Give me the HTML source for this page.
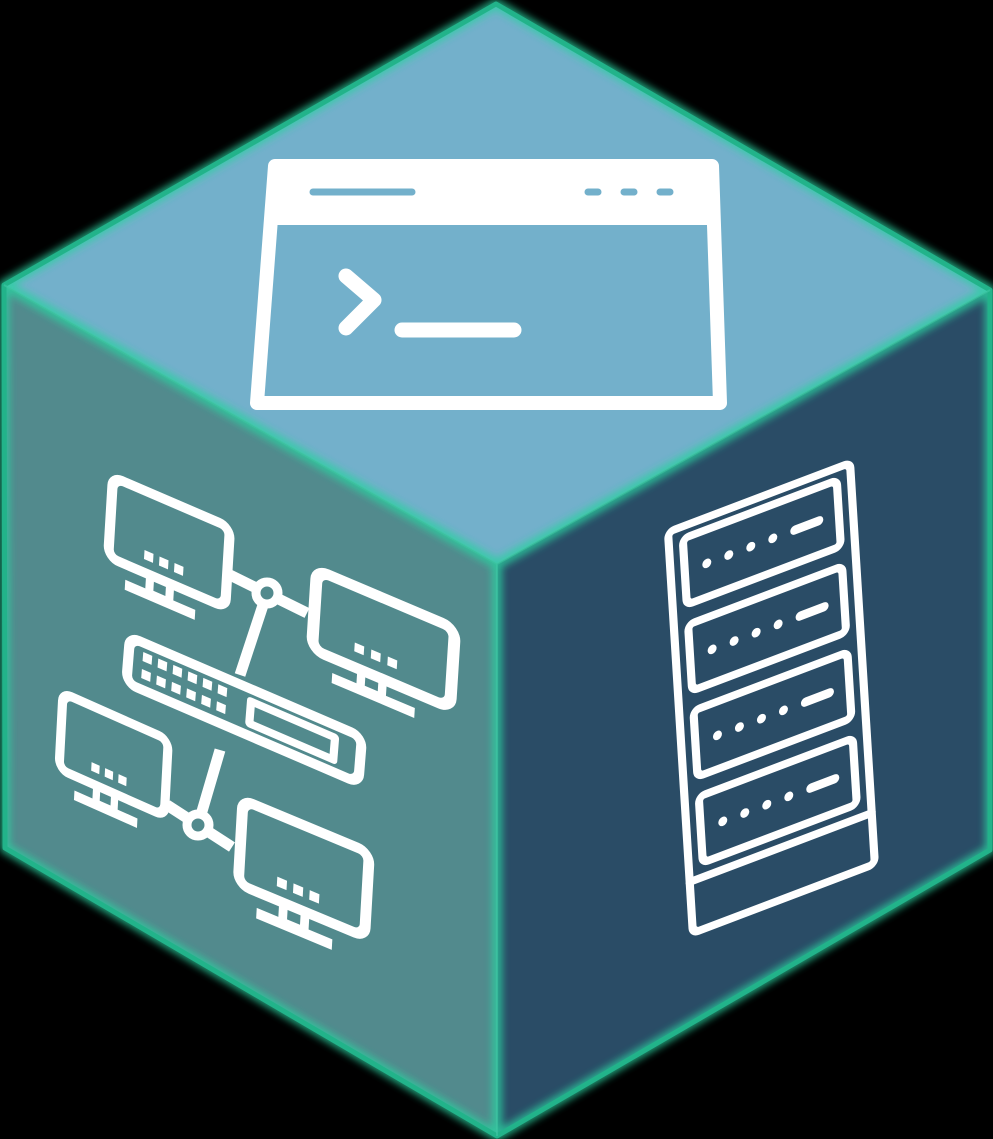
<!DOCTYPE html>
<html><head><meta charset="utf-8"><style>
html,body{margin:0;padding:0;background:#000;}
svg{display:block}
</style></head><body>
<svg width="993" height="1139" viewBox="0 0 993 1139" xmlns="http://www.w3.org/2000/svg">
<defs>
<filter id="glow" x="-10%" y="-10%" width="120%" height="120%">
<feGaussianBlur stdDeviation="4"/>
</filter>
</defs>
<rect width="993" height="1139" fill="#000"/>
<!-- faces -->
<polygon points="496,4 990,290 497,564 4,285" fill="#73b0cb"/>
<polygon points="4,285 497,564 497,1136 5,848" fill="#528a8d"/>
<polygon points="990,290 990,850 497,1136 497,564" fill="#2a4c66"/>
<!-- glow edges -->
<g fill="none" stroke="#2bd1a0" stroke-width="10" filter="url(#glow)" opacity="0.8">
<polygon points="496,4 990,290 990,850 497,1136 5,848 4,285"/>
<polyline points="4,285 497,564 990,290"/>
<line x1="497" y1="564" x2="497" y2="1136"/>
</g>
<g fill="none" stroke="#22b38a" stroke-width="5" stroke-linejoin="round">
<polygon points="496,4 990,290 990,850 497,1136 5,848 4,285"/>
</g>
<g fill="none" stroke="#3fc7a4" stroke-width="2" opacity="0.6">
<polyline points="4,285 497,564 990,290"/>
<line x1="497" y1="564" x2="497" y2="1136"/>
</g>

<!-- terminal -->
<g stroke="#fff" stroke-linejoin="round" stroke-linecap="round">
<polygon points="275,166 712,166 720,403 257,403" fill="none" stroke-width="14"/>
<polygon points="275,166 712,166 714,220 272,220" fill="#fff" stroke-width="10"/>
<polyline points="346,276 374,300 346,328" fill="none" stroke-width="15"/>
<line x1="402" y1="330" x2="514" y2="330" stroke-width="15"/>
</g>
<g stroke="#73b0cb" stroke-width="7" stroke-linecap="round">
<line x1="313" y1="192" x2="412" y2="192"/>
<line x1="588" y1="192" x2="598" y2="192"/>
<line x1="624" y1="192" x2="634" y2="192"/>
<line x1="660" y1="192" x2="670" y2="192"/>
</g>

<!-- rack -->
<g transform="matrix(1,-0.379,0.062,1,668,532)" fill="none" stroke="#fff" stroke-width="8" stroke-linejoin="round" stroke-linecap="round">
<rect x="0" y="0" width="182" height="401" rx="6"/>
<rect x="14" y="12" width="154" height="66" rx="6"/>
<rect x="14" y="98" width="154" height="66" rx="6"/>
<rect x="14" y="184" width="154" height="66" rx="6"/>
<rect x="14" y="270" width="154" height="66" rx="6"/>
<line x1="0" y1="350" x2="182" y2="350"/>
<g fill="#fff" stroke="none">
<circle cx="36" cy="45" r="4.5"/><circle cx="58" cy="45" r="4.5"/><circle cx="80" cy="45" r="4.5"/><circle cx="102" cy="45" r="4.5"/>
<circle cx="36" cy="131" r="4.5"/><circle cx="58" cy="131" r="4.5"/><circle cx="80" cy="131" r="4.5"/><circle cx="102" cy="131" r="4.5"/>
<circle cx="36" cy="217" r="4.5"/><circle cx="58" cy="217" r="4.5"/><circle cx="80" cy="217" r="4.5"/><circle cx="102" cy="217" r="4.5"/>
<circle cx="36" cy="303" r="4.5"/><circle cx="58" cy="303" r="4.5"/><circle cx="80" cy="303" r="4.5"/><circle cx="102" cy="303" r="4.5"/>
</g>
<line x1="124" y1="45" x2="148" y2="45" stroke-width="9"/>
<line x1="124" y1="131" x2="148" y2="131" stroke-width="9"/>
<line x1="124" y1="217" x2="148" y2="217" stroke-width="9"/>
<line x1="124" y1="303" x2="148" y2="303" stroke-width="9"/>
</g>

<!-- network -->
<g stroke="#fff" stroke-width="11" fill="none" stroke-linecap="butt" stroke-linejoin="round">
<line x1="230" y1="575" x2="307" y2="613"/>
<line x1="267" y1="593" x2="240" y2="675"/>
<line x1="167" y1="805" x2="232" y2="847"/>
<line x1="198" y1="825" x2="220" y2="750"/>
</g>
<circle cx="267" cy="593" r="11" fill="#528a8d" stroke="#fff" stroke-width="9"/>
<circle cx="198" cy="825" r="11" fill="#528a8d" stroke="#fff" stroke-width="9"/>

<!-- monitor symbol: local screen 120x80 -->
<g id="mons" stroke="#fff" fill="none" stroke-width="10" stroke-linejoin="round">
<g transform="matrix(1,0.43,-0.06,1,113,477)">
<rect x="0" y="0" width="117" height="80" rx="10" fill="#528a8d"/>
<g fill="#fff" stroke="none"><rect x="35" y="58" width="9" height="9"/><rect x="50" y="58" width="9" height="9"/><rect x="65" y="58" width="9" height="9"/></g>
<rect x="42" y="80" width="20" height="18" stroke-width="8"/>
<line x1="18" y1="100" x2="88" y2="100"/>
</g>
<g transform="matrix(1.18,0.5,-0.07,1.1,317,570)">
<rect x="0" y="0" width="117" height="72" rx="10" fill="#528a8d"/>
<g fill="#fff" stroke="none"><rect x="35" y="50" width="8" height="8"/><rect x="49" y="50" width="8" height="8"/><rect x="63" y="50" width="8" height="8"/></g>
<rect x="42" y="72" width="18" height="16" stroke-width="7"/>
<line x1="18" y1="90" x2="88" y2="90" stroke-width="9"/>
</g>
<g transform="matrix(0.9,0.4,-0.05,0.95,63,693)">
<rect x="0" y="0" width="117" height="80" rx="10" fill="#528a8d"/>
<g fill="#fff" stroke="none"><rect x="35" y="58" width="9" height="9"/><rect x="50" y="58" width="9" height="9"/><rect x="65" y="58" width="9" height="9"/></g>
<rect x="42" y="80" width="20" height="18" stroke-width="8"/>
<line x1="18" y1="100" x2="88" y2="100"/>
</g>
<g transform="matrix(1.08,0.45,-0.06,1.05,243,800)">
<rect x="0" y="0" width="117" height="80" rx="10" fill="#528a8d"/>
<g fill="#fff" stroke="none"><rect x="35" y="58" width="9" height="9"/><rect x="50" y="58" width="9" height="9"/><rect x="65" y="58" width="9" height="9"/></g>
<rect x="42" y="80" width="20" height="18" stroke-width="8"/>
<line x1="18" y1="100" x2="88" y2="100"/>
</g>
<!-- switch -->
<g transform="matrix(1,0.43,-0.08,1,130,637)">
<rect x="0" y="0" width="232" height="46" rx="10" fill="#528a8d"/>
<rect x="122" y="12" width="84" height="22" stroke-width="8"/>
<g fill="#fff" stroke="none">
<rect x="14" y="9" width="9" height="9"/><rect x="29" y="9" width="9" height="9"/><rect x="44" y="9" width="9" height="9"/><rect x="59" y="9" width="9" height="9"/><rect x="74" y="9" width="9" height="9"/><rect x="89" y="9" width="9" height="9"/>
<rect x="14" y="26" width="9" height="9"/><rect x="29" y="26" width="9" height="9"/><rect x="44" y="26" width="9" height="9"/><rect x="59" y="26" width="9" height="9"/><rect x="74" y="26" width="9" height="9"/><rect x="89" y="26" width="9" height="9"/>
</g>
</g>
</g>
</svg>
</body></html>
